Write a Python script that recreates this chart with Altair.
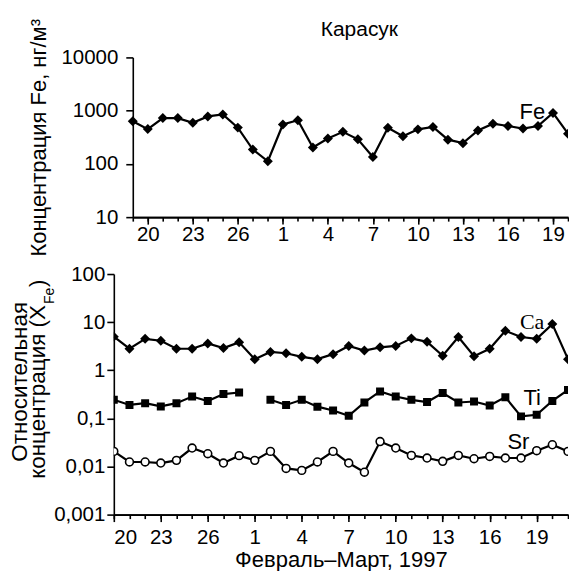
import altair as alt
import pandas as pd

# ---------------- data ----------------
fe_dates = pd.date_range("1997-02-19", "1997-03-20").strftime("%Y-%m-%d").tolist()
fe_values = [630, 450, 725, 725, 590, 780, 850, 480, 186, 112,
             550, 660, 203, 300, 400, 290, 135, 475, 330, 445,
             495, 285, 245, 425, 570, 515, 460, 515, 905, 370]

rel_dates = pd.date_range("1997-02-20", "1997-03-21").strftime("%Y-%m-%d").tolist()
ca_values = [5.0, 2.8, 4.5, 4.1, 2.8, 2.8, 3.6, 2.9, 3.8, 1.7,
             2.4, 2.26, 1.9, 1.7, 2.16, 3.2, 2.57, 3.0, 3.2, 4.6,
             3.9, 2.0, 4.9, 1.96, 2.8, 6.6, 4.9, 4.5, 9.1, 1.7]
ti_values = [0.243, 0.19, 0.207, 0.177, 0.207, 0.284, 0.23, 0.32, 0.345, None,
             0.243, 0.19, 0.243, 0.175, 0.146, 0.113, 0.214, 0.363, 0.285, 0.243,
             0.219, 0.335, 0.214, 0.224, 0.185, 0.276, 0.11, 0.119, 0.23, 0.39]
sr_values = [0.0206, 0.0124, 0.0124, 0.0118, 0.0134, 0.0242, 0.0184, 0.0118, 0.0168, 0.0134,
             0.0206, 0.0091, 0.0083, 0.0124, 0.0206, 0.0118, 0.0076, 0.033, 0.0242, 0.017,
             0.015, 0.0128, 0.017, 0.0145, 0.0162, 0.015, 0.015, 0.0213, 0.0283, 0.0206]

fe_ticks = [10, 100, 1000, 10000]
rel_ticks = [0.001, 0.01, 0.1, 1, 10, 100]

# series name labels: (date, value, text)
fe_label = [("1997-03-17 15:00", 950, "Fe")]
ca_label = [("1997-03-18 17:00", 10.1, "Ca")]
other_labels = [("1997-03-18 17:00", 0.27, "Ti"), ("1997-03-17 20:00", 0.033, "Sr")]

title_top = "Карасук"
ytitle_top = "Концентрация Fe, нг/м³"
xtitle_bottom = "Февраль–Март, 1997"

# ---------------- helpers ----------------
origin = pd.Timestamp("1997-02-20")


def idx(dates):
    return [(pd.Timestamp(d) - origin).total_seconds() / 86400 for d in dates]


def label_df(items):
    return pd.DataFrame({"t": idx([d for d, _, _ in items]), "v": [v for _, v, _ in items],
                         "s": [s for _, _, s in items]})


FONT = "Liberation Sans"
FS = 20.5    # tick labels
TS = 22.5    # axis titles
LS = 22      # series labels
W = 455
TOP_H = 160
BOT_H = 241
SHIFT = 19

major_vals = list(range(0, 28, 3))
label_expr = "datum.value <= 8 ? datum.value + 20 : datum.value - 8"


def major_axis(pad, **kw):
    return alt.Axis(values=major_vals, labelExpr=label_expr, tickSize=7, orient="bottom",
                    grid=False, labelPadding=pad, **kw)


def minor_axis(vals):
    return alt.Axis(values=vals, labels=False, tickSize=4, orient="bottom", title=None, grid=False)


# ---------------- top panel ----------------
top_df = pd.DataFrame({"t": idx(fe_dates), "v": fe_values})
xs_top = alt.Scale(domain=[-1, 28], range=[SHIFT, W], nice=False, zero=False)
ys_top = alt.Scale(type="log", domain=[10, 10000], nice=False)
y_axis_top = alt.Axis(values=fe_ticks, format="d", tickSize=7, offset=-SHIFT, title=ytitle_top,
                      titleFontSize=22, labelPadding=8, titlePadding=10, grid=False)

top_base = alt.Chart(top_df)
top_line = top_base.mark_line(color="black", strokeWidth=2.2, clip=True).encode(
    x=alt.X("t:Q", scale=xs_top, axis=minor_axis(list(range(-1, 29)))),
    y=alt.Y("v:Q", scale=ys_top, axis=y_axis_top),
)
top_pts = top_base.mark_point(shape="diamond", filled=True, color="black", size=100, opacity=1,
                              clip=True).encode(
    x=alt.X("t:Q", scale=xs_top, axis=major_axis(0, title=None)),
    y=alt.Y("v:Q", scale=ys_top, axis=y_axis_top),
)
top_text = alt.Chart(label_df(fe_label)).mark_text(font=FONT, fontSize=LS, color="black").encode(
    x=alt.X("t:Q", scale=xs_top, axis=None),
    y=alt.Y("v:Q", scale=ys_top, axis=y_axis_top),
    text="s:N",
)
one = pd.DataFrame({"a": [0]})
top_title = alt.Chart(one).mark_text(text=title_top, font=FONT, fontSize=21, color="black",
                                     align="center", baseline="middle").encode(
    x=alt.value(246), y=alt.value(-27))

top = alt.layer(top_line, top_pts, top_text, top_title).resolve_axis(x="independent").properties(
    width=W, height=TOP_H)

# ---------------- bottom panel ----------------
xs_bot = alt.Scale(domain=[0, 29], nice=False, zero=False)
ys_bot = alt.Scale(type="log", domain=[0.001, 100], nice=False)
y_axis_bot = alt.Axis(values=rel_ticks, labelExpr="replace(format(datum.value, '~g'), '.', ',')",
                      tickSize=7, labelPadding=2, title=None, grid=False)

t_rel = idx(rel_dates)
ca_df = pd.DataFrame({"t": t_rel, "v": ca_values})
sr_df = pd.DataFrame({"t": t_rel, "v": sr_values})
ti_df = pd.DataFrame({"t": t_rel, "v": ti_values})
ti_df["seg"] = (ti_df["v"].isna()).cumsum()
ti_df = ti_df.dropna()

x_minor_bot = alt.X("t:Q", scale=xs_bot, axis=minor_axis(list(range(0, 30))))
x_major_bot = alt.X("t:Q", scale=xs_bot,
                    axis=major_axis(6, title=xtitle_bottom, titleY=52, titleBaseline="alphabetic",
                                    titleFontSize=22))
x_none_bot = alt.X("t:Q", scale=xs_bot, axis=None)
y_bot = alt.Y("v:Q", scale=ys_bot, axis=y_axis_bot)

ca_line = alt.Chart(ca_df).mark_line(color="black", strokeWidth=2.2, clip=True).encode(x=x_minor_bot, y=y_bot)
ca_pts = alt.Chart(ca_df).mark_point(shape="diamond", filled=True, color="black", size=100, opacity=1,
                                     clip=True).encode(x=x_major_bot, y=y_bot)
ti_line = alt.Chart(ti_df).mark_line(color="black", strokeWidth=2.2, clip=True).encode(
    x=x_none_bot, y=y_bot, detail="seg:N")
ti_pts = alt.Chart(ti_df).mark_point(shape="square", filled=True, color="black", size=64, opacity=1,
                                     clip=True).encode(x=x_none_bot, y=y_bot)
sr_line = alt.Chart(sr_df).mark_line(color="black", strokeWidth=2.2, clip=True).encode(x=x_none_bot, y=y_bot)
sr_pts = alt.Chart(sr_df).mark_point(shape="circle", filled=True, fill="white", stroke="black",
                                     strokeWidth=1.6, size=62, opacity=1, clip=True).encode(x=x_none_bot, y=y_bot)

ca_text = alt.Chart(label_df(ca_label)).mark_text(font="Liberation Serif", fontSize=LS, color="black").encode(
    x=x_none_bot, y=y_bot, text="s:N")
oth_text = alt.Chart(label_df(other_labels)).mark_text(font=FONT, fontSize=LS, color="black").encode(
    x=x_none_bot, y=y_bot, text="s:N")

yl1 = alt.Chart(one).mark_text(text="Относительная", angle=270, font=FONT, fontSize=TS, color="black",
                               align="center", baseline="middle").encode(x=alt.value(-93.5), y=alt.value(108))
yl2 = alt.Chart(one).mark_text(text="концентрация (X", angle=270, font=FONT, fontSize=TS, color="black",
                               align="right", baseline="middle").encode(x=alt.value(-75.5), y=alt.value(31))
yl3 = alt.Chart(one).mark_text(text="Fe", angle=270, font=FONT, fontSize=14, color="black",
                               align="left", baseline="middle").encode(x=alt.value(-63.5), y=alt.value(30))
yl4 = alt.Chart(one).mark_text(text=")", angle=270, font=FONT, fontSize=TS, color="black",
                               align="left", baseline="middle").encode(x=alt.value(-75.5), y=alt.value(13))

bottom = alt.layer(ca_line, ca_pts, ti_line, ti_pts, sr_line, sr_pts, ca_text, oth_text,
                   yl1, yl2, yl3, yl4).resolve_axis(x="independent").properties(width=W, height=BOT_H)

chart = alt.vconcat(top, bottom, spacing=57, bounds="flush").configure_view(stroke=None).configure_axis(
    labelFont=FONT, labelFontSize=FS, titleFont=FONT, titleFontSize=TS, titleFontWeight="normal",
    labelColor="black", titleColor="black", domainColor="black", tickColor="black",
    domainWidth=1.6, tickWidth=1.6,
).properties(padding={"left": 1, "top": 9, "right": 0, "bottom": 0})

chart.save("out.html", embed_options={"renderer": "svg", "actions": False})
